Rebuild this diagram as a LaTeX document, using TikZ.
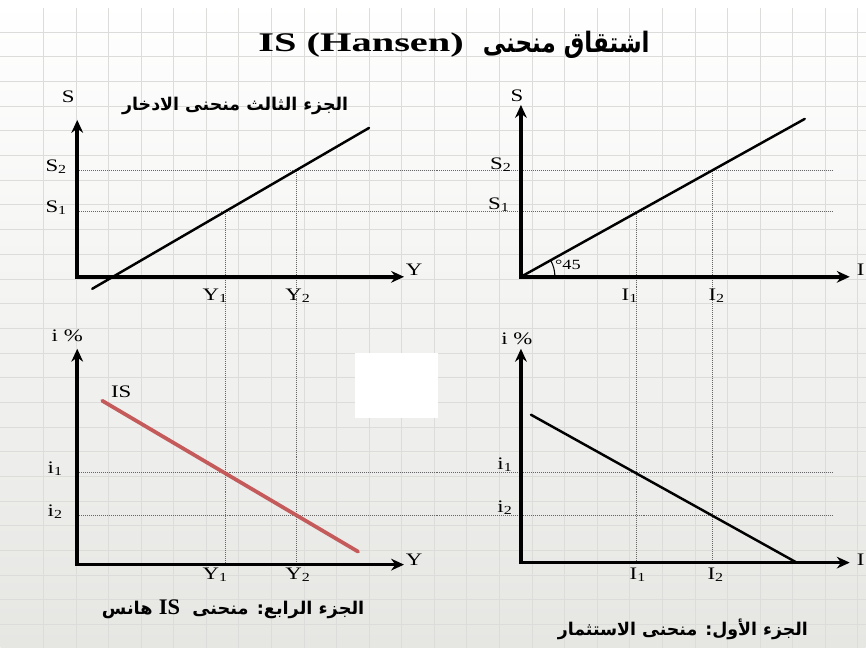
\documentclass[tikz,border=0pt]{standalone}
\usepackage{fontspec}
\setmainfont{Liberation Serif}
\newfontfamily\arabicfont[Script=Arabic]{DejaVu Sans}
\TeXXeTstate=1
\usetikzlibrary{arrows.meta}
\definecolor{isred}{HTML}{C45A5A}
\definecolor{paper}{HTML}{E6E6E3}
\definecolor{gridc}{HTML}{DCDCDA}

\begin{document}
\begin{tikzpicture}[
    x=0.03cm, y=-0.03cm,
    >={Stealth[length=11pt, width=10pt]},
    axis/.style={<->, line width=3pt},
    curve/.style={line width=2.1pt, line cap=round},
    isline/.style={curve, draw=isred, line width=3.2pt},
    guide/.style={densely dotted, line width=0.7pt, draw=black!60},
    gridline/.style={draw=gridc, line width=0.5pt},
    lbl/.style={font=\fontsize{15}{17}\selectfont, xscale=1.3, inner sep=0pt},
    ttl/.style={font=\fontsize{23}{26}\selectfont\bfseries, xscale=1.5, inner sep=0pt},
    ttlar/.style={font=\arabicfont\fontsize{24}{28}\selectfont\bfseries, xscale=0.82, inner sep=0pt},
    arab/.style={font=\arabicfont\fontsize{15}{17}\selectfont\bfseries, xscale=0.99, inner sep=0pt},
]

% ── paper background ──
\shade[top color=white, bottom color=paper] (0,0) rectangle (866,648);
\foreach \gx in {0,...,25} { \draw[gridline] ({43+32.6*\gx},8) -- ({43+32.6*\gx},648); }
\foreach \gy in {0,...,24} { \draw[gridline] (0,{32+24.7*\gy}) -- (866,{32+24.7*\gy}); }
\fill[white] (355,353) rectangle (438,418);
\useasboundingbox (0,0) rectangle (866,648);

\node[ttlar, anchor=east] (title-ar) at (650,45) {\beginR اشتقاق منحنى\endR};
\node[ttl, anchor=west] (title-lat) at (258,45) {IS (Hansen)};

% ── guide lines (shared across panels) ──
\coordinate (s2-l) at (77,171);  \coordinate (s2-r) at (833,171);
\coordinate (s1-l) at (77,212);  \coordinate (s1-r) at (833,212);
\coordinate (i1-l) at (77,473);  \coordinate (i1-r) at (833,473);
\coordinate (i2-l) at (77,516);  \coordinate (i2-r) at (833,516);
\coordinate (y1-t) at (225,212); \coordinate (y1-b) at (225,565);
\coordinate (y2-t) at (296,171); \coordinate (y2-b) at (296,565);
\coordinate (iv1-t) at (637,212); \coordinate (iv1-b) at (637,563);
\coordinate (iv2-t) at (713,171); \coordinate (iv2-b) at (713,563);
\foreach \a/\b in {s2-l/s2-r, s1-l/s1-r, i1-l/i1-r, i2-l/i2-r,
                   y1-t/y1-b, y2-t/y2-b, iv1-t/iv1-b, iv2-t/iv2-b} {
    \draw[guide] (\a) -- (\b);
}

% ── top left: saving ──
\coordinate (tl-o) at (77,277);
\coordinate (tl-y) at (77,120);
\coordinate (tl-x) at (404,277);
\coordinate (sav-a) at (92,289);
\coordinate (sav-b) at (369,128);
\draw[curve] (sav-a) -- (sav-b);
\draw[axis] (tl-y) |- (tl-x);
\node[lbl] (tl-s) at (68,97) {S};
\node[lbl] (tl-s2) at (56,167) {S\textsubscript{2}};
\node[lbl] (tl-s1) at (56,208) {S\textsubscript{1}};
\node[lbl] (tl-yy) at (414,270) {Y};
\node[lbl] (tl-y1) at (215,296) {Y\textsubscript{1}};
\node[lbl] (tl-y2) at (298,296) {Y\textsubscript{2}};
\node[arab] (tl-cap) at (235,106) {\beginR الجزء الثالث منحنى الادخار\endR};

% ── top right: 45 degree line ──
\coordinate (tr-o) at (521,277);
\coordinate (tr-y) at (521,105);
\coordinate (tr-x) at (850,277);
\coordinate (tr-a) at (805,119);
\coordinate (tr-arc) at (555,277);
\draw[curve] (tr-o) -- (tr-a);
\draw[line width=0.9pt] (tr-arc) arc[start angle=0, end angle=-29, radius=34];
\draw[axis] (tr-y) |- (tr-x);
\node[lbl] (tr-s) at (517,96) {S};
\node[lbl] (tr-s2) at (501,165) {S\textsubscript{2}};
\node[lbl] (tr-s1) at (499,205) {S\textsubscript{1}};
\node[lbl] (tr-ii) at (861,270) {I};
\node[lbl] (tr-i1) at (630,296) {I\textsubscript{1}};
\node[lbl] (tr-i2) at (717,296) {I\textsubscript{2}};
\node[lbl, font=\fontsize{12}{14}\selectfont] (tr-deg) at (568,265) {°45};

% ── bottom left: IS ──
\coordinate (bl-o) at (77,565);
\coordinate (bl-y) at (77,349);
\coordinate (bl-x) at (404,565);
\coordinate (is-a) at (102,401);
\coordinate (is-b) at (358,552);
\draw[isline] (is-a) -- (is-b);
\draw[axis] (bl-y) |- (bl-x);
\node[lbl] (bl-r) at (67,336) {i \%};
\node[lbl] (bl-i1) at (55,469) {i\textsubscript{1}};
\node[lbl] (bl-i2) at (55,512) {i\textsubscript{2}};
\node[lbl] (bl-is) at (121,392) {IS};
\node[lbl] (bl-yy) at (414,560) {Y};
\node[lbl] (bl-y1) at (215,575) {Y\textsubscript{1}};
\node[lbl] (bl-y2) at (298,575) {Y\textsubscript{2}};
\node[arab, xscale=1.02] (bl-cap) at (233,610)
    {\beginR هانس\endR\ {\rmfamily\bfseries\fontsize{19}{21}\selectfont IS}\ \ \beginR الجزء الرابع: منحنى\endR};

% ── bottom right: investment ──
\coordinate (br-o) at (521,563);
\coordinate (br-y) at (521,349);
\coordinate (br-x) at (850,563);
\coordinate (inv-a) at (531,415);
\coordinate (inv-b) at (797,563);
\draw[curve] (inv-a) -- (inv-b);
\draw[axis] (br-y) |- (br-x);
\node[lbl] (br-r) at (517,339) {i \%};
\node[lbl] (br-i1) at (505,465) {i\textsubscript{1}};
\node[lbl] (br-i2) at (505,508) {i\textsubscript{2}};
\node[lbl] (br-ii) at (861,560) {I};
\node[lbl] (br-i1b) at (638,575) {I\textsubscript{1}};
\node[lbl] (br-i2b) at (716,575) {I\textsubscript{2}};
\node[arab] (br-cap) at (683,630) {\beginR الجزء الأول: منحنى الاستثمار\endR};

\end{tikzpicture}
\end{document}
